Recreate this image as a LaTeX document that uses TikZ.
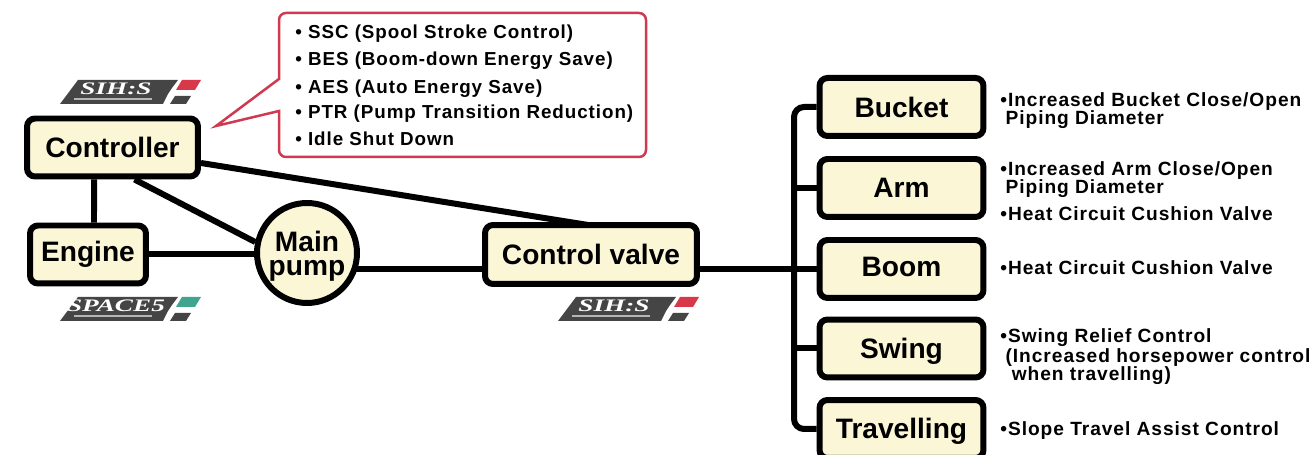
\documentclass[tikz,border=0pt]{standalone}
\usepackage{fontspec}
\usepackage{xcolor}
\setmainfont{Liberation Sans}
\newfontfamily\listfont[LetterSpace=5]{Liberation Sans}
\newfontfamily\badgefont[FakeStretch=1.55]{Liberation Serif}
\usetikzlibrary{positioning,backgrounds}
\definecolor{cream}{HTML}{FBF6D6}
\definecolor{callred}{HTML}{CF3A50}
\definecolor{badgegrey}{HTML}{454545}
\definecolor{tagred}{HTML}{D8394A}
\definecolor{taggreen}{HTML}{3FA58E}
\tikzset{part/.style={rectangle,draw,line width=0.12cm,rounded corners=0.16cm,fill=cream,inner sep=0pt,minimum width=3.28cm,minimum height=1.16cm,font=\fontsize{16}{16}\selectfont\bfseries}}
\tikzset{conn/.style={line width=0.12cm}}
\tikzset{note/.style={anchor=west,align=left,inner sep=0pt,font=\listfont\fontsize{10.7}{10.7}\selectfont\bfseries}}
\tikzset{spec/.style={note,font=\listfont\fontsize{10.9}{10.3}\selectfont\bfseries}}
\newcommand{\badge}[4]{%
  \begin{scope}[shift={(#1,#2)}]
    \fill[badgegrey] (0,24) -- (18,0) -- (118,0) -- (112,8) -- (108,14) -- (103,24) -- cycle;
    \draw[white!60!badgegrey,line width=0.04cm] (14,19.5) -- (92,19.5);
    \node[inner sep=0pt,text=white,font=\badgefont\fontsize{10}{10}\selectfont\bfseries\itshape] (#3) at (56,9) {#3};
    \fill[#4] (122,0) -- (141,0) -- (135,10) -- (116,10) -- cycle;
    \fill[badgegrey] (115,16) -- (131,16) -- (126,24) -- (110,24) -- cycle;
  \end{scope}}

\begin{document}
\begin{tikzpicture}[x=0.02cm,y=-0.02cm]
    \useasboundingbox (0,0) rectangle (1316,455);

    \node[part,minimum width=3.42cm] (controller) at (112.5,147.5) {Controller};
    \node[part,minimum width=2.32cm] (engine) at (88,254.5) {Engine};
    \node[part,circle,minimum size=2cm,rounded corners=0pt,align=center,font=\fontsize{16}{13.6}\selectfont\bfseries] (pump) at (307,253) {\rule{0pt}{15.2pt}Main\\pump};
    \node[part,minimum width=4.24cm,minimum height=1.18cm] (valve) at (591,254.5) {Control valve};
    \node[part] (bucket) at (901.5,107) {Bucket};
    \node[part,text height=11.5pt,text depth=1.2pt] (arm) at (901.5,188) {Arm};
    \node[part,text height=11.5pt,text depth=3pt] (boom) at (901.5,269) {Boom};
    \node[part,text depth=0.3pt] (swing) at (901.5,348.5) {Swing};
    \node[part,text depth=0.6pt] (travelling) at (901.5,429) {Travelling};
    \coordinate (trunk) at (794,268);

    \begin{scope}[on background layer]
    \draw[conn] ([xshift=-0.37cm]controller.south) -- ([xshift=0.12cm]engine.north);
    \draw[conn] ([xshift=0.44cm]controller.south) -- (pump.168);
    \draw[conn] ([yshift=-0.31cm]controller.east) -- ([xshift=0.38cm,yshift=-0.13cm]valve.north);
    \draw[conn] (engine) -- (engine -| pump);
    \draw[conn] (pump |- boom) -- (valve |- boom);
    \draw[conn] (valve |- boom) -- (boom);
    \draw[conn,rounded corners=0.2cm] (bucket) -| (trunk) |- (travelling);
    \draw[conn] (arm) -- (arm -| trunk);
    \draw[conn] (swing) -- (swing -| trunk);
    \end{scope}

    % speech bubble
    \draw[callred,line width=0.05cm,fill=white] (216,126) -- (279,111) [rounded corners=0.14cm] -- (279,157) -- (646,157) -- (646,13) -- (279,13) [sharp corners] -- (279,79) -- cycle;
    \node[note] (ssc) at (295,34) {•\hspace{3.5pt}SSC (Spool Stroke Control)};
    \node[note] (bes) at (295,61) {•\hspace{3.5pt}BES (Boom-down Energy Save)};
    \node[note] (aes) at (295,89) {•\hspace{3.5pt}AES (Auto Energy Save)};
    \node[note] (ptr) at (295,114) {•\hspace{3.5pt}PTR (Pump Transition Reduction)};
    \node[note] (idle) at (295,139) {•\hspace{3.5pt}Idle Shut Down};

    \badge{60}{80}{SIH:S}{tagred}
    \badge{60}{297}{SPACE5}{taggreen}
    \badge{558}{297}{SIH:S}{tagred}

    % lists on the right
    \node[spec] (bucketnote) at (1000,111) {•Increased Bucket Close/Open\\\hspace*{3pt}Piping Diameter};
    \node[spec] (armnote) at (1000,180) {•Increased Arm Close/Open\\\hspace*{3pt}Piping Diameter};
    \node[spec] (armheat) at (1000,214) {•Heat Circuit Cushion Valve};
    \node[spec] (boomheat) at (1000,268) {•Heat Circuit Cushion Valve};
    \node[spec] (swingnote) at (1000,356.5) {•Swing Relief Control\\[0.8pt]\hspace*{3pt}(Increased horsepower control\\\hspace*{6.5pt}when travelling)};
    \node[spec] (slope) at (1000,431) {•Slope Travel Assist Control};
\end{tikzpicture}
\end{document}
